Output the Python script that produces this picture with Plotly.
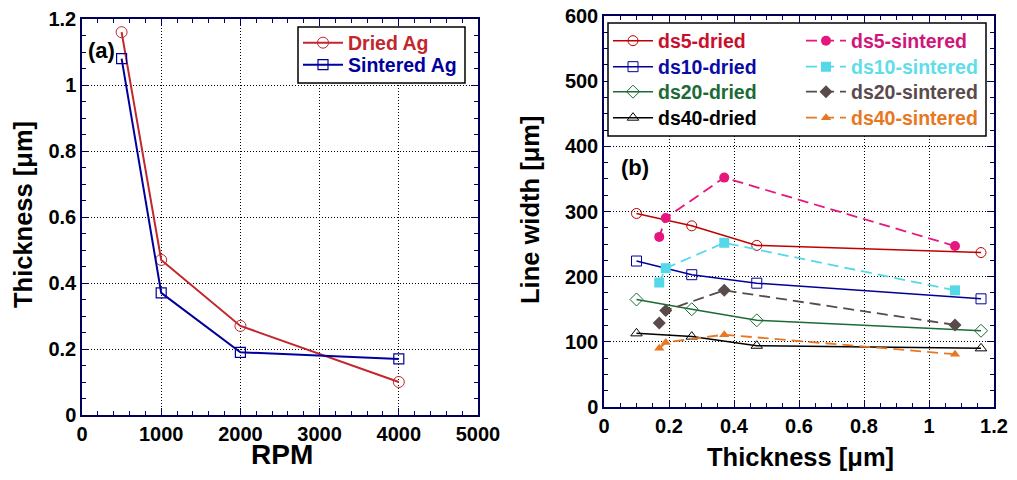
import plotly.graph_objects as go

# ---------------- data ----------------
rpm = [500, 1000, 2000, 4000]
thick_dried = [1.16, 0.47, 0.27, 0.10]
thick_sintered = [1.08, 0.37, 0.19, 0.17]

# line widths listed in rpm order (x = thickness at that rpm)
ds_names = ["ds5", "ds10", "ds20", "ds40"]
width_dried_ds5 = [237, 248, 278, 297]
width_dried_ds10 = [166, 190, 203, 224]
width_dried_ds20 = [117, 133, 150, 165]
width_dried_ds40 = [90, 94, 108, 113]
width_sint_ds5 = [247, 352, 290, 261]
width_sint_ds10 = [179, 252, 213, 191]
width_sint_ds20 = [126, 179, 148, 129]
width_sint_ds40 = [81, 111, 99, 90]

# tick labels
ticks_rpm = [0, 1000, 2000, 3000, 4000, 5000]
ticks_thick_a = [0, 0.2, 0.4, 0.6, 0.8, 1.0, 1.2]
ticks_thick_a_txt = ["0", "0.2", "0.4", "0.6", "0.8", "1", "1.2"]
ticks_thick_b = [0, 0.2, 0.4, 0.6, 0.8, 1.0, 1.2]
ticks_thick_b_txt = ["0", "0.2", "0.4", "0.6", "0.8", "1", "1.2"]
ticks_width = [0, 100, 200, 300, 400, 500, 600]

FONT = "Liberation Sans, Arial, sans-serif"
W, H = 1017, 480

fig = go.Figure()

legends = {}


def add_legend(key, px_x, px_y, size=20):
    legends[key] = dict(x=px_x / W, y=1 - px_y / H, xanchor="left", yanchor="middle",
                        bgcolor="rgba(0,0,0,0)", borderwidth=0, itemwidth=40,
                        font=dict(family=FONT, size=size, weight="bold"),
                        tracegroupgap=0)


# ---- panel (a) ----
fig.add_trace(go.Scatter(
    x=rpm, y=thick_dried, mode="lines+markers",
    name="<b><span style='color:#c1272d'>Dried Ag</span></b>",
    line=dict(color="#c1272d", width=2),
    marker=dict(symbol="circle-open", size=11, color="#c1272d", line=dict(width=1)),
    xaxis="x", yaxis="y", legend="legend"))
add_legend("legend", 298, 43, 19.5)
fig.add_trace(go.Scatter(
    x=rpm, y=thick_sintered, mode="lines+markers",
    name="<b><span style='color:#00009c'>Sintered Ag</span></b>",
    line=dict(color="#00009c", width=2),
    marker=dict(symbol="square-open", size=10, color="#00009c", line=dict(width=1.2)),
    xaxis="x", yaxis="y", legend="legend2"))
add_legend("legend2", 298, 65, 19.5)

# ---- panel (b) ----
dried_sets = [width_dried_ds5, width_dried_ds10, width_dried_ds20, width_dried_ds40]
sint_sets = [width_sint_ds5, width_sint_ds10, width_sint_ds20, width_sint_ds40]
dried_colors = ["#c00000", "#000099", "#1b6b35", "#000000"]
dried_text = ["#c8102e", "#0a0aa5", "#1b6b35", "#000000"]
dried_symbols = ["circle-open", "square-open", "diamond-open", "triangle-up-open"]
sint_colors = ["#e5177e", "#55d9e9", "#594b4b", "#e87722"]
sint_text = ["#d1157a", "#5fdde9", "#594b4b", "#e87722"]
sint_symbols = ["circle", "square", "diamond", "triangle-up"]
row_y = [41, 67, 92, 118]

n = 3
for name, ys, c, tc, s, ry in zip(ds_names, dried_sets, dried_colors, dried_text, dried_symbols, row_y):
    key = f"legend{n}"
    fig.add_trace(go.Scatter(
        x=thick_dried, y=ys, mode="lines+markers",
        name=f"<b><span style='color:{tc}'>{name}-dried</span></b>",
        line=dict(color=c, width=1.5),
        marker=dict(symbol=s, size=10, color=c, line=dict(width=1, color=c)),
        xaxis="x2", yaxis="y2", legend=key))
    add_legend(key, 608, ry, 19.5)
    n += 1

for name, ys, c, tc, s, ry in zip(ds_names, sint_sets, sint_colors, sint_text, sint_symbols, row_y):
    key = f"legend{n}"
    fig.add_trace(go.Scatter(
        x=thick_sintered, y=ys, mode="lines+markers",
        name=f"<b><span style='color:{tc}'>{name}-sintered</span></b>",
        line=dict(color=c, width=1.8, dash="11px,6px"),
        marker=dict(symbol=s, size=10 if s != "triangle-up" else 9, color=c),
        xaxis="x2", yaxis="y2", legend=key))
    add_legend(key, 801, ry, 19.5)
    n += 1

AX = "#00005a"
axis_common = dict(
    showline=True, linecolor=AX, linewidth=1.5, mirror="ticks",
    ticks="inside", ticklen=7, tickcolor=AX, tickwidth=1,
    showgrid=True, gridcolor="black", griddash="1px,2px", gridwidth=1,
    zeroline=False, automargin=False, tickmode="array",
    tickfont=dict(family=FONT, size=20, color="black", weight="bold"),
)


def bold(lst):
    return [f"<b>{t}</b>" for t in lst]


def title_ann(text, px_x, px_y, size, angle=0):
    return dict(text=f"<b>{text}</b>", x=px_x / W, y=1 - px_y / H, xref="paper", yref="paper",
                xanchor="center", yanchor="middle", showarrow=False, textangle=angle,
                font=dict(family=FONT, size=size, weight="bold", color="black"))


fig.update_layout(
    width=W, height=H, autosize=False, template="none",
    margin=dict(l=0, r=0, t=0, b=0, autoexpand=False),
    paper_bgcolor="white", plot_bgcolor="white",
    font=dict(family=FONT, color="black"),
    showlegend=True,
    xaxis=dict(domain=[82 / W, 478 / W], range=[0, 5000], anchor="y",
               tickvals=ticks_rpm, ticktext=bold([str(v) for v in ticks_rpm]),
               minor=dict(tickmode="linear", tick0=0, dtick=200, ticks="inside", ticklen=4, tickcolor=AX, showgrid=False),
               **axis_common),
    yaxis=dict(domain=[1 - 415 / H, 1 - 19 / H], range=[0, 1.2], anchor="x",
               tickvals=ticks_thick_a, ticktext=bold(ticks_thick_a_txt),
               minor=dict(tickmode="linear", tick0=0, dtick=0.05, ticks="inside", ticklen=4, tickcolor=AX, showgrid=False),
               **axis_common),
    xaxis2=dict(domain=[604 / W, 994 / W], range=[0, 1.2], anchor="y2",
                tickvals=ticks_thick_b, ticktext=bold(ticks_thick_b_txt),
                minor=dict(tickmode="linear", tick0=0, dtick=0.05, ticks="inside", ticklen=4, tickcolor=AX, showgrid=False),
                **axis_common),
    yaxis2=dict(domain=[1 - 407 / H, 1 - 16 / H], range=[0, 600], anchor="x2",
                tickvals=ticks_width, ticktext=bold([str(v) for v in ticks_width]),
                minor=dict(tickmode="linear", tick0=0, dtick=25, ticks="inside", ticklen=4, tickcolor=AX, showgrid=False),
                **axis_common),
    shapes=[
        dict(type="rect", xref="paper", yref="paper",
             x0=298 / W, x1=465 / W, y0=1 - 83 / H, y1=1 - 27 / H,
             line=dict(color="black", width=1.5), fillcolor="white", layer="above"),
        dict(type="rect", xref="paper", yref="paper",
             x0=608 / W, x1=986 / W, y0=1 - 136 / H, y1=1 - 23 / H,
             line=dict(color="black", width=1.5), fillcolor="white", layer="above"),
    ],
    annotations=[
        dict(text="<b>(a)</b>", x=250, y=1.106, xref="x", yref="y", showarrow=False,
             font=dict(family=FONT, size=22, weight="bold", color="black")),
        dict(text="<b>(b)</b>", x=0.095, y=368, xref="x2", yref="y2", showarrow=False,
             font=dict(family=FONT, size=22, weight="bold", color="black")),
        title_ann("RPM", 282, 454, 28),
        title_ann("Thickness [μm]", 23, 215, 25.5, -90),
        title_ann("Line width [μm]", 530, 210, 25.5, -90),
        title_ann("Thickness [μm]", 800, 457, 25.5),
    ],
    **legends,
)

fig.write_html("out.html", config={"displayModeBar": False},
               post_script="document.body.style.margin='0px';document.body.style.overflow='hidden';")
